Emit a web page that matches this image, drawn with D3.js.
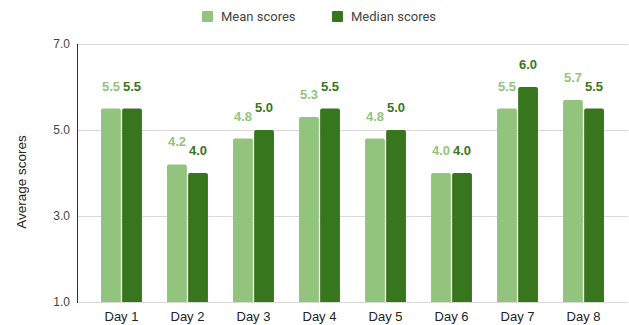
<!DOCTYPE html>
<html>
<head>
<meta charset="utf-8">
<script src="https://cdn.jsdelivr.net/npm/d3@7"></script>
<style>
  html, body { margin: 0; padding: 0; background: #fff; }
  svg { display: block; font-family: "Liberation Sans", Arial, sans-serif; }
</style>
</head>
<body>
<svg id="chart" width="629" height="325"></svg>
<script>
// Daily scores: mean and median per day
const days = ["Day 1", "Day 2", "Day 3", "Day 4", "Day 5", "Day 6", "Day 7", "Day 8"];
const seriesNames = ["Mean scores", "Median scores"];
const meanScores = [5.5, 4.2, 4.8, 5.3, 4.8, 4.0, 5.5, 5.7];
const medianScores = [5.5, 4.0, 5.0, 5.5, 5.0, 4.0, 6.0, 5.5];
const yTicks = [1.0, 3.0, 5.0, 7.0];

const colors = { "Mean scores": "#93c47d", "Median scores": "#38761d" };

const svg = d3.select("#chart");
const plot = { left: 77, right: 628, top: 44, bottom: 302 };

const x = d3.scaleBand()
  .domain(days)
  .range([plot.left, plot.right])
  .paddingInner(0.38)
  .paddingOuter(0.364);

const x1 = d3.scaleBand()
  .domain(seriesNames)
  .range([0, x.bandwidth()])
  .paddingInner(0.06);

const y = d3.scaleLinear()
  .domain([1, 7])
  .range([plot.bottom, plot.top]);

// Horizontal gridlines
svg.append("g")
  .selectAll("line")
  .data(yTicks)
  .join("line")
  .attr("x1", plot.left)
  .attr("x2", plot.right)
  .attr("y1", d => Math.round(y(d)) + 0.5)
  .attr("y2", d => Math.round(y(d)) + 0.5)
  .attr("stroke", "#d9d9d9")
  .attr("stroke-width", 1);

// Y tick labels
svg.append("g")
  .selectAll("text")
  .data(yTicks)
  .join("text")
  .attr("x", 70)
  .attr("y", d => y(d))
  .attr("dy", "0.35em")
  .attr("text-anchor", "end")
  .attr("font-size", 12)
  .attr("fill", "#444")
  .text(d => d3.format(".1f")(d));

// Y axis title
svg.append("text")
  .attr("transform", "translate(26,182) rotate(-90)")
  .attr("text-anchor", "middle")
  .attr("font-size", 13.5)
  .attr("fill", "#222")
  .text("Average scores");

// Bars
const rows = days.map((d, i) => ({
  day: d,
  values: [
    { key: "Mean scores", value: meanScores[i] },
    { key: "Median scores", value: medianScores[i] }
  ]
}));

function topRoundedRect(x0, y0, w, h, r) {
  return `M${x0},${y0 + h}V${y0 + r}Q${x0},${y0} ${x0 + r},${y0}H${x0 + w - r}Q${x0 + w},${y0} ${x0 + w},${y0 + r}V${y0 + h}Z`;
}

const groups = svg.append("g")
  .selectAll("g")
  .data(rows)
  .join("g")
  .attr("transform", d => `translate(${x(d.day)},0)`);

groups.selectAll("path")
  .data(d => d.values)
  .join("path")
  .attr("d", d => topRoundedRect(x1(d.key), y(d.value), x1.bandwidth(), y(1) - y(d.value), 2))
  .attr("fill", d => colors[d.key]);

groups.selectAll("text")
  .data(d => d.values)
  .join("text")
  .attr("x", d => x1(d.key) + x1.bandwidth() / 2)
  .attr("y", d => y(d.value) - 18)
  .attr("text-anchor", "middle")
  .attr("font-size", 13)
  .attr("font-weight", "bold")
  .attr("fill", d => colors[d.key])
  .text(d => d3.format(".1f")(d.value));

// Left axis line
svg.append("line")
  .attr("x1", plot.left + 0.5)
  .attr("x2", plot.left + 0.5)
  .attr("y1", plot.top)
  .attr("y2", plot.bottom + 1)
  .attr("stroke", "#333")
  .attr("stroke-width", 1);

// X labels
svg.append("g")
  .selectAll("text")
  .data(days)
  .join("text")
  .attr("x", d => x(d) + x.bandwidth() / 2)
  .attr("y", 321)
  .attr("text-anchor", "middle")
  .attr("font-size", 13)
  .attr("fill", "#222")
  .text(d => d);

// Legend
const legendItems = [
  { key: "Mean scores", x: 202 },
  { key: "Median scores", x: 332 }
];
const legend = svg.append("g");
legend.selectAll("rect")
  .data(legendItems)
  .join("rect")
  .attr("x", d => d.x)
  .attr("y", 11)
  .attr("width", 11)
  .attr("height", 11)
  .attr("rx", 1)
  .attr("fill", d => colors[d.key]);
legend.selectAll("text")
  .data(legendItems)
  .join("text")
  .attr("x", d => d.x + 19)
  .attr("y", 21)
  .attr("font-family", "Roboto, sans-serif")
  .attr("font-size", 13)
  .attr("fill", "#444")
  .text(d => d.key);
</script>
</body>
</html>
